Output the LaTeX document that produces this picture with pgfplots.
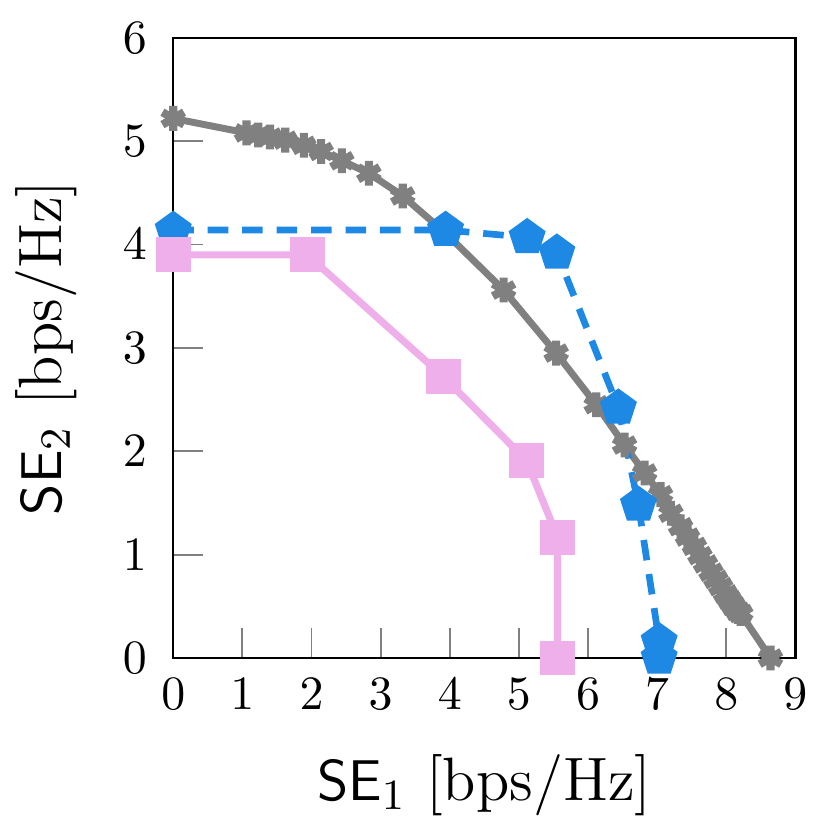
\documentclass[border=0pt]{standalone}
\usepackage{pgfplots}
\pgfplotsset{compat=1.18}
\definecolor{cgray}{RGB}{128,128,128}
\definecolor{cblue}{RGB}{30,136,229}
\definecolor{cpink}{RGB}{238,175,235}
\begin{document}
\begin{tikzpicture}
\begin{axis}[
  name=ax,
  scale only axis,
  width=130pt, height=129.6pt,
  xmin=0, xmax=9, ymin=0, ymax=6,
  xtick={0,1,...,9}, ytick={0,1,...,6},
  tick pos=left,
  tick align=inside,
  major tick length=6.3pt,
  tick style={cgray, line width=0.4pt},
  axis line style={black, line width=0.5pt},
  xticklabel style={yshift=-0.8pt},
  yticklabel style={xshift=-2pt},
  xlabel={$\mathsf{SE}_1$ [bps/Hz]},
  ylabel={$\mathsf{SE}_2$ [bps/Hz]},
  label style={font=\fontsize{12.8}{15}\selectfont},
  xlabel style={yshift=-2.6pt},
  ylabel style={yshift=2.8pt},
  clip=false,
]
\addplot[cgray, line width=1.45pt, mark=asterisk, mark size=2.6pt, mark options={line width=1.7pt}] coordinates {
(0,5.22) (1.06,5.08) (1.23,5.06) (1.40,5.04) (1.62,5.01) (1.89,4.96) (2.14,4.90) (2.44,4.81) (2.83,4.69) (3.32,4.47) (3.94,4.11) (4.78,3.56) (5.54,2.95) (6.12,2.45) (6.53,2.06) (6.82,1.79) (7.05,1.58) (7.20,1.40) (7.34,1.27) (7.44,1.17) (7.54,1.08) (7.62,0.99) (7.70,0.91) (7.78,0.83) (7.85,0.76) (7.92,0.69) (7.99,0.62) (8.05,0.56) (8.11,0.50) (8.17,0.45) (8.21,0.43) (8.64,0)
};
\addplot[cblue, line width=1.4pt, dash pattern=on 4.3pt off 2.9pt, mark=pentagon*, mark size=3.2pt, mark options={solid, fill=cblue}] coordinates {
(0,4.14) (3.94,4.14) (5.12,4.07) (5.55,3.92) (6.44,2.42) (6.73,1.48) (7.03,0.16) (7.03,0)
};
\addplot[cpink, line width=1.5pt, mark=square*, mark size=2.9pt, mark options={fill=cpink}] coordinates {
(0,3.90) (1.94,3.90) (3.91,2.72) (5.11,1.91) (5.56,1.17) (5.56,0)
};
\end{axis}
\pgfresetboundingbox
\path[use as bounding box] ([shift={(-36.2pt,-37.2pt)}]ax.south west) rectangle ([shift={(7.5pt,7.9pt)}]ax.north east);
\end{tikzpicture}
\end{document}
